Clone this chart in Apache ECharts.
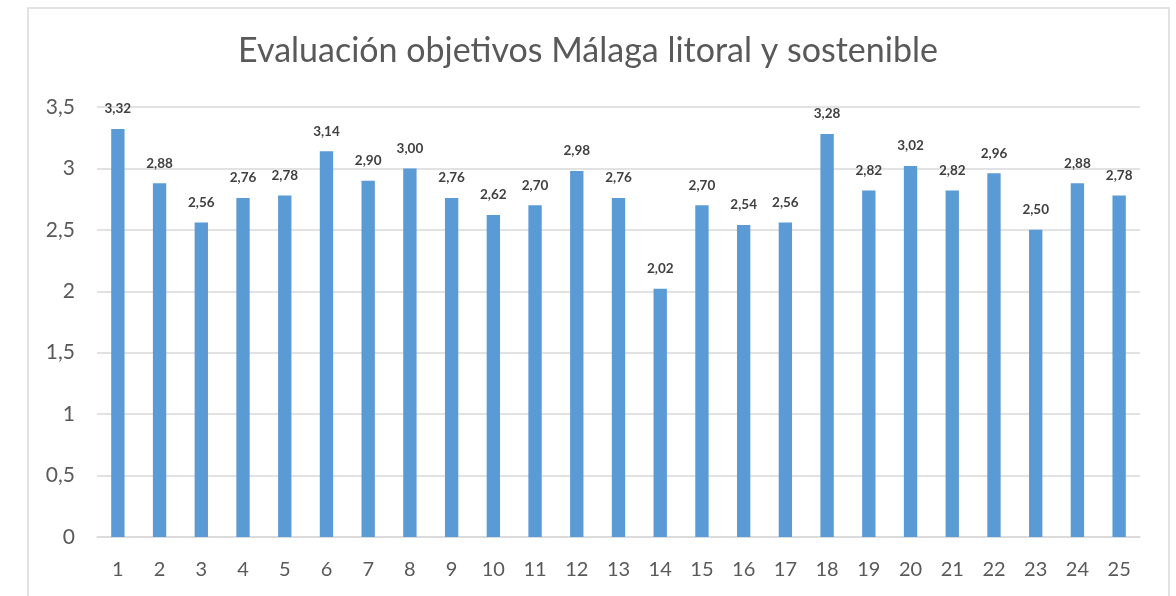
<!DOCTYPE html>
<html>
<head>
<meta charset="utf-8">
<style>
  html, body { margin: 0; padding: 0; background: #fff; }
  #chart { width: 1176px; height: 596px; }
</style>
<script src="https://cdn.jsdelivr.net/npm/echarts@6/dist/echarts.min.js"></script>
</head>
<body>
<div id="chart"></div>
<script>
// Objective numbers along the x axis
const categories = ['1','2','3','4','5','6','7','8','9','10','11','12','13','14','15','16','17','18','19','20','21','22','23','24','25'];
// Average rating for each objective
const scores = [3.32, 2.88, 2.56, 2.76, 2.78, 3.14, 2.90, 3.00, 2.76, 2.62, 2.70, 2.98, 2.76, 2.02, 2.70, 2.54, 2.56, 3.28, 2.82, 3.02, 2.82, 2.96, 2.50, 2.88, 2.78];
const titleText = 'Evaluación objetivos Málaga litoral y sostenible';

const FONT = 'Lato, "Open Sans", sans-serif';
const comma = v => String(v).replace('.', ',');

const chart = echarts.init(document.getElementById('chart'), null, { renderer: 'canvas' });
chart.setOption({
  animation: false,
  backgroundColor: '#ffffff',
  graphic: [{
    type: 'rect',
    shape: { x: 28, y: 8, width: 1141, height: 620 },
    style: { fill: 'none', stroke: '#d9d9d9', lineWidth: 1.5 },
    silent: true
  }],
  title: {
    text: titleText,
    left: 'center',
    top: 29,
    textStyle: { fontFamily: FONT, fontSize: 34, fontWeight: 'normal', color: '#595959' }
  },
  grid: { left: 97, right: 36, top: 107, bottom: 59, containLabel: false },
  xAxis: {
    type: 'category',
    data: categories,
    axisLine: { lineStyle: { color: '#d9d9d9', width: 1.5 } },
    axisTick: { show: false },
    axisLabel: { fontFamily: FONT, fontSize: 20, color: '#595959', margin: 23 }
  },
  yAxis: {
    type: 'value',
    min: 0,
    max: 3.5,
    interval: 0.5,
    axisLine: { show: false },
    axisTick: { show: false },
    splitLine: { lineStyle: { color: '#d9d9d9', width: 1.5 } },
    axisLabel: { fontFamily: FONT, fontSize: 21, color: '#595959', margin: 22, formatter: v => comma(v) }
  },
  series: [{
    type: 'bar',
    data: scores,
    barWidth: '32%',
    itemStyle: { color: '#5b9bd5' },
    label: {
      show: true,
      position: 'top',
      distance: 13,
      fontFamily: FONT,
      fontSize: 13.5,
      fontWeight: 'bold',
      color: '#404040',
      formatter: p => comma(p.value.toFixed(2))
    }
  }]
});
</script>
</body>
</html>
